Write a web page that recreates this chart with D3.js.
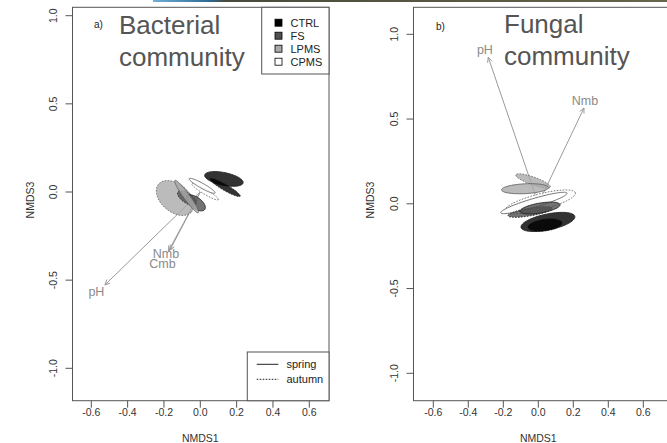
<!DOCTYPE html>
<html><head><meta charset="utf-8">
<script src="https://cdn.jsdelivr.net/npm/d3@7"></script>
<style>body{margin:0;background:#fff}svg{display:block}text{font-family:"Liberation Sans",Arial,sans-serif}</style>
</head><body><svg id="c" width="667" height="443"></svg>
<script>
// ---------- data ----------
const xTicks = [-0.6,-0.4,-0.2,0.0,0.2,0.4,0.6];
const yTicks = [-1.0,-0.5,0.0,0.5,1.0];
const treatments = ["CTRL","FS","LPMS","CPMS"];
const treatFill = ["#000000","#505050","#aaaaaa","#ffffff"];
const seasons = ["spring","autumn"];
// ellipses: [treatment, season, cx, cy, semi-major, semi-minor, angle(deg)]
const bactEllipses = [
  ["CPMS","autumn", 0.026, 0.002, 0.086, 0.014, -32],
  ["CPMS","spring", 0.010, 0.035, 0.082, 0.014, -30],
  ["LPMS","autumn",-0.139,-0.034, 0.120, 0.078, -42],
  ["FS","autumn",  -0.073,-0.034, 0.061, 0.028, -35],
  ["FS","spring",  -0.024,-0.062, 0.061, 0.031, -38],
  ["LPMS","spring",-0.075,-0.026, 0.112, 0.017, -55],
  ["CTRL","spring", 0.130, 0.074, 0.108, 0.036, -12],
  ["CTRL","autumn", 0.136, 0.026, 0.097, 0.017, -31]
];
const fungEllipses = [
  ["CPMS","autumn", 0.010, 0.011, 0.209, 0.047, 15],
  ["LPMS","autumn",-0.030, 0.135, 0.105, 0.023, -20],
  ["LPMS","spring",-0.076, 0.089, 0.134, 0.029, 3],
  ["CPMS","spring",-0.025, 0.005, 0.198, 0.026, 17],
  ["FS","autumn",  -0.047,-0.048, 0.128, 0.023, 10],
  ["FS","spring",   0.010,-0.025, 0.116, 0.029, 10],
  ["CTRL","spring", 0.055,-0.107, 0.157, 0.047, 12],
  ["CTRL","autumn", 0.038,-0.125, 0.099, 0.035, 8]
];
// env vectors: [label, tipX, tipY, labelX, labelY]
const bactVectors = [
  ["pH", -0.525,-0.527,-0.572,-0.570],
  ["Nmb",-0.167,-0.329,-0.189,-0.352],
  ["Cmb",-0.175,-0.335,-0.208,-0.410]
];
const fungVectors = [
  ["pH", -0.286, 0.864,-0.305, 0.907],
  ["Nmb", 0.261, 0.565, 0.267, 0.607]
];

// ---------- drawing ----------
const svg = d3.select("#c");
const defs = svg.append("defs");
const g = defs.append("linearGradient").attr("id","strip");
[["0%","#6fb0d8"],["11%","#2c6a95"],["14%","#4a4a3c"],["100%","#66664a"]].forEach(s=>g.append("stop").attr("offset",s[0]).attr("stop-color",s[1]));
svg.append("rect").attr("x",153).attr("y",0).attr("width",514).attr("height",2).attr("fill","url(#strip)");

function panel(opt){
  const x = d3.scaleLinear().domain([-0.6,0.6]).range(opt.xr);
  const y = d3.scaleLinear().domain([-1,1]).range(opt.yr);
  const G = svg.append("g");
  const [bx0,by0,bx1,by1] = opt.box;
  const cid = "clip"+opt.id;
  defs.append("clipPath").attr("id",cid).append("rect").attr("x",bx0).attr("y",by0).attr("width",bx1-bx0).attr("height",by1-by0);
  const P = G.append("g").attr("clip-path",`url(#${cid})`);
  opt.vectors.forEach(v=>{
    const x0=x(0), y0=y(0), x1=x(v[1]), y1=y(v[2]);
    P.append("line").attr("x1",x0).attr("y1",y0).attr("x2",x1).attr("y2",y1).attr("stroke","#9a9a9a").attr("stroke-width",1);
    const ang=Math.atan2(y1-y0,x1-x0), L=5.5, a=Math.PI/7;
    P.append("path").attr("d",`M${x1-L*Math.cos(ang-a)},${y1-L*Math.sin(ang-a)}L${x1},${y1}L${x1-L*Math.cos(ang+a)},${y1-L*Math.sin(ang+a)}`)
      .attr("fill","none").attr("stroke","#9a9a9a").attr("stroke-width",1);
    P.append("text").attr("x",x(v[3])).attr("y",y(v[4])).attr("text-anchor","middle").attr("dominant-baseline","central")
      .attr("font-size",12.5).attr("fill","#8a8a8a").text(v[0]);
  });
  const line = d3.line().x(d=>x(d[0])).y(d=>y(d[1])).curve(d3.curveLinearClosed);
  opt.ellipses.forEach(e=>{
    const [tr,se,cx,cy,a,b,th]=e;
    const t=th*Math.PI/180;
    const pts=d3.range(72).map(i=>{const u=i/72*2*Math.PI;
      return [cx+a*Math.cos(t)*Math.cos(u)-b*Math.sin(t)*Math.sin(u), cy+a*Math.sin(t)*Math.cos(u)+b*Math.cos(t)*Math.sin(u)];});
    const fi=treatFill[treatments.indexOf(tr)];
    P.append("path").attr("d",line(pts)).attr("fill",fi).attr("fill-opacity",0.8)
      .attr("stroke", tr==="CTRL"||tr==="FS" ? "#222" : "#666").attr("stroke-width",0.9)
      .attr("stroke-dasharray", se==="autumn" ? "1.6,1.4" : null);
  });
  G.append("rect").attr("x",bx0).attr("y",by0).attr("width",bx1-bx0).attr("height",by1-by0)
    .attr("fill","none").attr("stroke","#555").attr("stroke-width",1);
  xTicks.forEach(v=>{
    G.append("line").attr("x1",x(v)).attr("x2",x(v)).attr("y1",by1).attr("y2",by1+7).attr("stroke","#555");
    G.append("text").attr("x",x(v)).attr("y",415.5).attr("text-anchor","middle").attr("font-size",10.5).attr("fill","#333").text(v.toFixed(1));
  });
  yTicks.forEach(v=>{
    G.append("line").attr("x1",bx0).attr("x2",bx0-7).attr("y1",y(v)).attr("y2",y(v)).attr("stroke","#555");
    G.append("text").attr("transform",`translate(${bx0-20},${y(v)}) rotate(-90)`).attr("text-anchor","middle").attr("dominant-baseline","central")
      .attr("font-size",10.5).attr("fill","#333").text(v.toFixed(1));
  });
  G.append("text").attr("x",x(0)).attr("y",442).attr("text-anchor","middle").attr("font-size",10.5).attr("fill","#333").text("NMDS1");
  G.append("text").attr("transform",`translate(${opt.ylabX},${(by0+by1)/2-4}) rotate(-90)`).attr("text-anchor","middle").attr("dominant-baseline","central")
    .attr("font-size",10.5).attr("fill","#333").text("NMDS3");
  G.append("text").attr("x",opt.letter[0]).attr("y",opt.letter[1]).attr("font-size",10).attr("fill","#222").text(opt.letter[2]);
  opt.title.forEach((t,i)=>G.append("text").attr("x",opt.titleX).attr("y",opt.titleY+i*32.5).attr("font-size",26).attr("fill","#555").text(t));
  return {G,x,y};
}

const left = panel({id:"a", xr:[91.3,309.3], yr:[368.3,15.7], box:[72.5,7.3,329,400.7], ylabX:29.5,
  ellipses:bactEllipses, vectors:bactVectors, letter:[94,27.5,"a)"], title:["Bacterial","community"], titleX:119, titleY:33.5});
const right = panel({id:"b", xr:[433.3,643.3], yr:[373.3,34.3], box:[413.5,7.3,672,400.7], ylabX:370,
  ellipses:fungEllipses, vectors:fungVectors, letter:[436,29.5,"b)"], title:["Fungal","community"], titleX:504, titleY:32.5});

const LG = left.G;
LG.append("rect").attr("x",261.7).attr("y",7.3).attr("width",67.3).attr("height",66.7).attr("fill","#fff").attr("stroke","#555");
treatments.forEach((t,i)=>{
  const cy=22.7+i*13;
  LG.append("rect").attr("x",275).attr("y",cy-3.5).attr("width",7).attr("height",7).attr("fill",treatFill[i]).attr("stroke","#000").attr("stroke-width",0.8);
  LG.append("text").attr("x",290.5).attr("y",cy+4).attr("font-size",11).attr("fill","#222").text(t);
});
LG.append("rect").attr("x",247.3).attr("y",352).attr("width",81.7).attr("height",48.7).attr("fill","#fff").attr("stroke","#555");
seasons.forEach((s,i)=>{
  const cy=364.3+i*15;
  LG.append("line").attr("x1",256.7).attr("x2",278.3).attr("y1",cy).attr("y2",cy).attr("stroke","#222").attr("stroke-width",1)
    .attr("stroke-dasharray", s==="autumn" ? "1.6,1.4" : null);
  LG.append("text").attr("x",286.5).attr("y",cy+4).attr("font-size",11).attr("fill","#222").text(s);
});
</script></body></html>
